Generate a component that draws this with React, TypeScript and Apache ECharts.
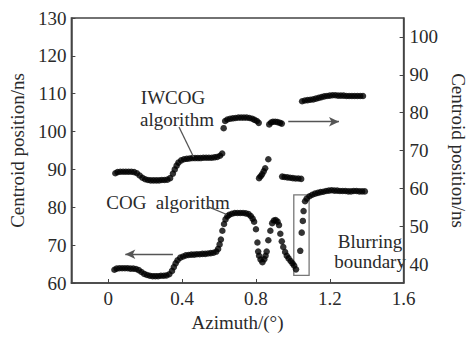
import React, { useEffect, useRef } from "react";
import * as echarts from "echarts";

const xTicks = [0, 0.4, 0.8, 1.2, 1.6];
const xTickMarks = [0, 0.4, 0.8, 1.2];
const leftTicks = [60, 70, 80, 90, 100, 110, 120, 130];
const rightTicks = [40, 50, 60, 70, 80, 90, 100];

// COG algorithm (left axis)
const cogData: [number, number][] = [
  [0.033, 63.5], [0.045, 63.8], [0.06, 63.9], [0.075, 63.9], [0.09, 63.9], [0.105, 63.9], [0.12, 63.8],
  [0.135, 63.8], [0.15, 63.7], [0.165, 63.4], [0.18, 62.9], [0.195, 62.4], [0.21, 62.1], [0.225, 61.9],
  [0.24, 61.8], [0.255, 61.8], [0.27, 61.8], [0.285, 61.9], [0.3, 61.9], [0.315, 62.0], [0.33, 62.3],
  [0.345, 63.2], [0.355, 64.2], [0.365, 65.2], [0.375, 66.0], [0.39, 66.7], [0.405, 67.0], [0.42, 67.3],
  [0.435, 67.4], [0.45, 67.5], [0.465, 67.5], [0.48, 67.6], [0.495, 67.6], [0.51, 67.7], [0.525, 67.7],
  [0.54, 67.8], [0.555, 67.9], [0.57, 68.0], [0.585, 68.3], [0.595, 69.0], [0.603, 70.2], [0.61, 71.5],
  [0.618, 73.8], [0.627, 75.6], [0.635, 76.8], [0.645, 77.6], [0.655, 78.0], [0.67, 78.3], [0.685, 78.5],
  [0.7, 78.5], [0.715, 78.5], [0.73, 78.5], [0.745, 78.4], [0.76, 78.2], [0.772, 77.7], [0.782, 77.0],
  [0.79, 76.2], [0.8, 74.2], [0.808, 70.7], [0.812, 68.3], [0.817, 67.2], [0.825, 66.2], [0.835, 65.5],
  [0.845, 66.3], [0.852, 67.2], [0.858, 68.3], [0.867, 71.3], [0.878, 73.8], [0.888, 75.8], [0.897, 76.5],
  [0.907, 76.6], [0.917, 76.2], [0.925, 75.3], [0.932, 73.0], [0.94, 71.0], [0.948, 69.5], [0.958, 68.2],
  [0.967, 67.2], [0.977, 66.5], [0.988, 65.8], [0.998, 65.2], [1.007, 64.6], [1.017, 63.6],
  [1.04, 68.5], [1.048, 73.3], [1.054, 76.4], [1.058, 79.0], [1.066, 81.6], [1.075, 82.3], [1.09, 82.9],
  [1.105, 83.3], [1.12, 83.6], [1.135, 83.8], [1.15, 84.0], [1.165, 84.1], [1.18, 84.3], [1.195, 84.4],
  [1.21, 84.5], [1.225, 84.4], [1.24, 84.4], [1.255, 84.3], [1.27, 84.3], [1.285, 84.3], [1.3, 84.2],
  [1.315, 84.2], [1.33, 84.3], [1.345, 84.3], [1.36, 84.2], [1.375, 84.2], [1.39, 84.2],
];

// IWCOG algorithm (right axis)
const iwcogData: [number, number][] = [
  [0.038, 64.0], [0.05, 64.3], [0.065, 64.4], [0.08, 64.4], [0.095, 64.4], [0.11, 64.4], [0.125, 64.4],
  [0.14, 64.3], [0.155, 64.0], [0.17, 63.4], [0.185, 62.8], [0.2, 62.4], [0.215, 62.2], [0.23, 62.1],
  [0.245, 62.1], [0.26, 62.1], [0.275, 62.1], [0.29, 62.2], [0.305, 62.2], [0.32, 62.3], [0.335, 62.7],
  [0.35, 63.9], [0.36, 65.0], [0.37, 66.0], [0.38, 66.8], [0.395, 67.4], [0.41, 67.7], [0.425, 67.8],
  [0.44, 67.9], [0.455, 68.0], [0.47, 68.0], [0.485, 68.0], [0.5, 68.0], [0.515, 68.1], [0.53, 68.1],
  [0.545, 68.1], [0.56, 68.1], [0.575, 68.2], [0.59, 68.3], [0.605, 68.6], [0.617, 69.2],
  [0.625, 75.9], [0.633, 77.8], [0.645, 78.2], [0.66, 78.4], [0.675, 78.5], [0.69, 78.6], [0.705, 78.7],
  [0.72, 78.7], [0.735, 78.7], [0.75, 78.7], [0.765, 78.6], [0.78, 78.4], [0.792, 78.1], [0.805, 77.8],
  [0.815, 77.3],
  [0.817, 62.7], [0.825, 63.2], [0.833, 63.7], [0.842, 64.5], [0.85, 65.3], [0.867, 67.7],
  [0.872, 76.9], [0.882, 77.4], [0.892, 77.6], [0.905, 77.6], [0.917, 77.5], [0.93, 77.3], [0.94, 77.1],
  [0.942, 63.1], [0.955, 63.0], [0.97, 62.9], [0.985, 62.8], [1.0, 62.7], [1.015, 62.6], [1.03, 62.6],
  [1.045, 62.5],
  [1.05, 83.0], [1.065, 83.2], [1.08, 83.3], [1.095, 83.4], [1.11, 83.5], [1.125, 83.7], [1.14, 83.9],
  [1.155, 84.1], [1.17, 84.3], [1.185, 84.4], [1.2, 84.5], [1.215, 84.6], [1.23, 84.6], [1.245, 84.5],
  [1.26, 84.5], [1.275, 84.5], [1.29, 84.4], [1.305, 84.4], [1.32, 84.4], [1.335, 84.4], [1.35, 84.4],
  [1.365, 84.4], [1.38, 84.4],
];

// annotations (data coordinates)
const cogArrow: [number, number][] = [[0.35, 67.6], [0.092, 67.6]]; // left axis
const iwcogArrow: [number, number][] = [[0.975, 77.6], [1.25, 77.6]]; // right axis
const iwcogLeader: [number, number][] = [[0.383, 101.2], [0.462, 93.3]]; // left axis
const cogLeader: [number, number][] = [[0.533, 80.3], [0.642, 78.1]]; // left axis
const blurBox: [number, number][] = [[1.005, 83.3], [1.088, 62.0]]; // left axis

const FONT = "'Liberation Serif', 'Times New Roman', serif";
const TEXT = "#2a2a2a";
const FS = 19;

export default function App() {
  const ref = useRef<HTMLDivElement>(null);
  useEffect(() => {
    if (!ref.current) return;
    const chart = echarts.init(ref.current, undefined, { renderer: "svg" });
    const axisLabel = { color: TEXT, fontFamily: FONT, fontSize: FS };
    const grayLine = { color: "#555", width: 1.3, type: "solid" as const };
    chart.setOption({
      animation: false,
      backgroundColor: "#fff",
      grid: {
        left: 65, right: 53, top: 18, bottom: 51,
        show: true, borderColor: "#444", borderWidth: 1.5, backgroundColor: "transparent",
      },
      xAxis: {
        type: "value", min: -0.2, max: 1.6,
        name: "Azimuth/(°)", nameLocation: "middle", nameGap: 30,
        nameTextStyle: { color: TEXT, fontFamily: FONT, fontSize: FS },
        axisLine: { show: true, onZero: false, lineStyle: { color: "#444", width: 1.5 } },
        axisTick: { show: true, inside: true, length: 4, customValues: xTickMarks, lineStyle: { color: "#444" } },
        axisLabel: { ...axisLabel, margin: 6, customValues: xTicks },
        splitLine: { show: false },
      },
      yAxis: [
        {
          type: "value", min: 60, max: 130, interval: 10, position: "left",
          name: "Centroid position/ns", nameLocation: "middle", nameGap: 38,
          nameTextStyle: { color: TEXT, fontFamily: FONT, fontSize: FS },
          axisLine: { show: true, onZero: false, lineStyle: { color: "#444", width: 1.5 } },
          axisTick: { show: true, inside: true, length: 4, lineStyle: { color: "#444" } },
          axisLabel: { ...axisLabel, margin: 5, customValues: leftTicks },
          splitLine: { show: false },
        },
        {
          type: "value", min: 35, max: 105, position: "right",
          name: "Centroid position/ns", nameLocation: "middle", nameGap: 38, nameRotate: -90,
          nameTextStyle: { color: TEXT, fontFamily: FONT, fontSize: FS },
          axisLine: { show: true, onZero: false, lineStyle: { color: "#444", width: 1.5 } },
          axisTick: { show: true, inside: true, length: 4, customValues: rightTicks, lineStyle: { color: "#444" } },
          axisLabel: { ...axisLabel, margin: 6, customValues: rightTicks },
          splitLine: { show: false },
        },
      ],
      series: [
        {
          name: "COG algorithm", type: "scatter", yAxisIndex: 0, data: cogData,
          symbol: "circle", symbolSize: 6.5, itemStyle: { color: "#000" }, silent: true,
          markLine: {
            silent: true, animation: false, label: { show: false },
            lineStyle: grayLine,
            data: [
              [{ coord: cogArrow[0], symbol: "none" }, { coord: cogArrow[1], symbol: "arrow", symbolSize: [7, 10] }],
              [{ coord: iwcogLeader[0], symbol: "none" }, { coord: iwcogLeader[1], symbol: "none" }],
              [{ coord: cogLeader[0], symbol: "none" }, { coord: cogLeader[1], symbol: "none" }],
            ],
          },
          markArea: {
            silent: true,
            itemStyle: { color: "rgba(0,0,0,0)", borderColor: "#777", borderWidth: 1.3 },
            data: [[{ coord: blurBox[0] }, { coord: blurBox[1] }]],
          },
        },
        {
          name: "IWCOG algorithm", type: "scatter", yAxisIndex: 1, data: iwcogData,
          symbol: "circle", symbolSize: 6.5, itemStyle: { color: "#000" }, silent: true,
          markLine: {
            silent: true, animation: false, label: { show: false },
            lineStyle: grayLine,
            data: [
              [{ coord: iwcogArrow[0], symbol: "none" }, { coord: iwcogArrow[1], symbol: "arrow", symbolSize: [7, 10] }],
            ],
          },
        },
      ],
      graphic: [
        { type: "text", x: 173, y: 97, style: { text: "IWCOG", font: `${FS}px ${FONT}`, fill: TEXT, textAlign: "center", textVerticalAlign: "middle" } },
        { type: "text", x: 177, y: 119, style: { text: "algorithm", font: `${FS}px ${FONT}`, fill: TEXT, textAlign: "center", textVerticalAlign: "middle" } },
        { type: "text", x: 168, y: 202, style: { text: "COG  algorithm", font: `${FS}px ${FONT}`, fill: TEXT, textAlign: "center", textVerticalAlign: "middle" } },
        { type: "text", x: 370, y: 241, style: { text: "Blurring", font: `${FS}px ${FONT}`, fill: TEXT, textAlign: "center", textVerticalAlign: "middle" } },
        { type: "text", x: 370, y: 261, style: { text: "boundary", font: `${FS}px ${FONT}`, fill: TEXT, textAlign: "center", textVerticalAlign: "middle" } },
      ],
    });
    return () => chart.dispose();
  }, []);
  return <div ref={ref} style={{ position: "fixed", left: 0, top: 0, width: 476, height: 337 }} />;
}
